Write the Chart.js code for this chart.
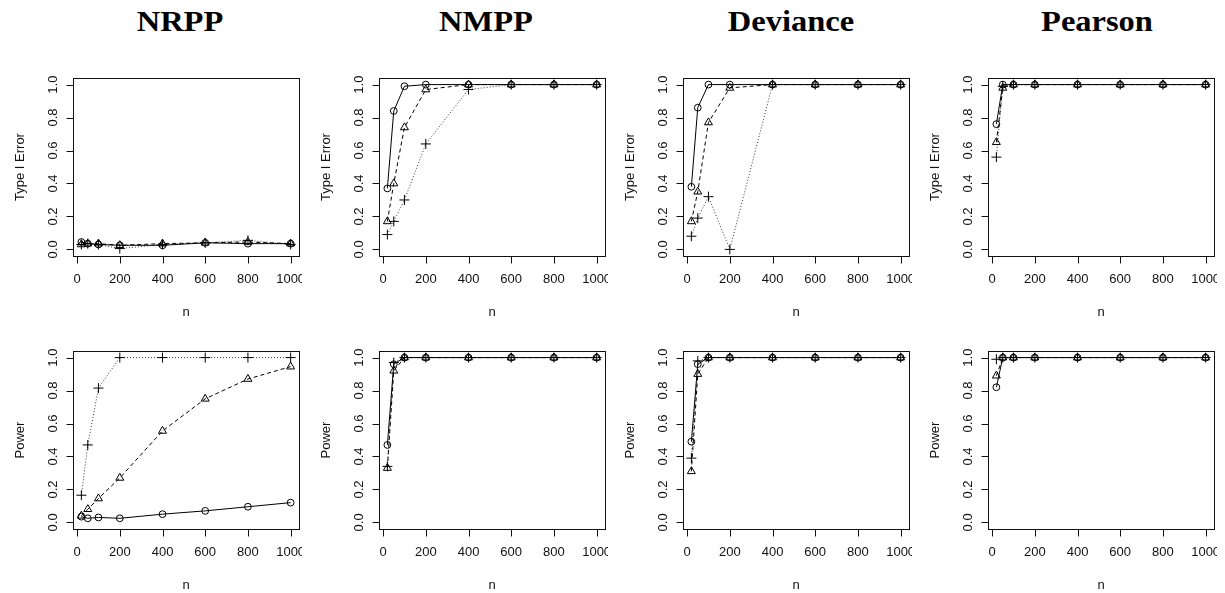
<!DOCTYPE html>
<html>
<head>
<meta charset="utf-8">
<script src="https://cdn.jsdelivr.net/npm/chart.js@4/dist/chart.umd.min.js"></script>
<style>
  html, body { margin: 0; padding: 0; background: #fff; overflow: hidden; }
  body { width: 1225px; height: 593px; position: relative; }
  .panel { position: absolute; }
  .head {
    position: absolute;
    top: 7px;
    font: bold 29px "Liberation Serif", serif;
    line-height: 1;
    color: #000;
    white-space: nowrap;
    transform: translateX(-50%) scaleX(1.12);
  }
</style>
</head>
<body>
<script>
// Размеры выборки и подписи осей
const nValues = [20, 50, 100, 200, 400, 600, 800, 1000];
const xTickValues = [0, 200, 400, 600, 800, 1000];
const xTickLabels = ["0", "200", "400", "600", "800", "1000"];
const yTickValues = [0, 0.2, 0.4, 0.6, 0.8, 1.0];
const yTickLabels = ["0.0", "0.2", "0.4", "0.6", "0.8", "1.0"];
const testNames = ["NRPP", "NMPP", "Deviance", "Pearson"];
const rowTitles = ["Type I Error", "Power"];

// Ошибка I рода: O — кружки, T — треугольники, P — плюсы
const nrppErrO = [0.045, 0.035, 0.03, 0.025, 0.025, 0.04, 0.035, 0.035];
const nrppErrT = [0.03, 0.035, 0.035, 0.025, 0.035, 0.04, 0.045, 0.035];
const nrppErrP = [0.03, 0.035, 0.03, 0.005, 0.03, 0.04, 0.055, 0.03];

const nmppErrO = [0.37, 0.84, 0.99, 1, 1, 1, 1, 1];
const nmppErrT = [0.17, 0.40, 0.74, 0.97, 1, 1, 1, 1];
const nmppErrP = [0.09, 0.17, 0.30, 0.64, 0.97, 1, 1, 1];

const devErrO = [0.38, 0.86, 1, 1, 1, 1, 1, 1];
const devErrT = [0.17, 0.35, 0.77, 0.98, 1, 1, 1, 1];
const devErrP = [0.08, 0.19, 0.32, 0, 1, 1, 1, 1];

const pearErrO = [0.76, 1, 1, 1, 1, 1, 1, 1];
const pearErrT = [0.65, 0.98, 1, 1, 1, 1, 1, 1];
const pearErrP = [0.56, 0.99, 1, 1, 1, 1, 1, 1];

// Мощность
const nrppPowO = [0.035, 0.025, 0.03, 0.025, 0.05, 0.07, 0.095, 0.12];
const nrppPowT = [0.04, 0.08, 0.145, 0.27, 0.555, 0.75, 0.87, 0.945];
const nrppPowP = [0.165, 0.47, 0.815, 1, 1, 1, 1, 1];

const nmppPowO = [0.47, 0.96, 1, 1, 1, 1, 1, 1];
const nmppPowT = [0.33, 0.92, 1, 1, 1, 1, 1, 1];
const nmppPowP = [0.34, 0.97, 1, 1, 1, 1, 1, 1];

const devPowO = [0.49, 0.96, 1, 1, 1, 1, 1, 1];
const devPowT = [0.31, 0.90, 1, 1, 1, 1, 1, 1];
const devPowP = [0.39, 0.98, 1, 1, 1, 1, 1, 1];

const pearPowO = [0.82, 1, 1, 1, 1, 1, 1, 1];
const pearPowT = [0.89, 1, 1, 1, 1, 1, 1, 1];
const pearPowP = [0.99, 1, 1, 1, 1, 1, 1, 1];

const panelData = [
  [[nrppErrO, nrppErrT, nrppErrP], [nmppErrO, nmppErrT, nmppErrP], [devErrO, devErrT, devErrP], [pearErrO, pearErrT, pearErrP]],
  [[nrppPowO, nrppPowT, nrppPowP], [nmppPowO, nmppPowT, nmppPowP], [devPowO, devPowT, devPowP], [pearPowO, pearPowT, pearPowP]],
];

// Раскладка панелей
const colLefts = [0, 306, 610, 915];
const rowTops = [40, 313];
const headCenters = [180, 486, 791, 1097];
const panelW = 306;
const panelH = 280;
const pad = { left: 73, top: 38, right: 7, bottom: 64 };

const tickFont = '13px "Liberation Sans", Arial, sans-serif';

// Рамка, засечки и подписи в стиле R
const rAxes = {
  id: "rAxes",
  afterDraw(chart, args, opts) {
    const { ctx, chartArea: a, scales } = chart;
    const sx = scales.x, sy = scales.y;
    ctx.save();
    ctx.strokeStyle = "#111";
    ctx.fillStyle = "#111";
    ctx.lineWidth = 1;
    ctx.strokeRect(a.left + 0.5, a.top + 0.5, a.width, a.height);

    ctx.beginPath();
    xTickValues.forEach((v) => {
      const px = Math.round(sx.getPixelForValue(v)) + 0.5;
      ctx.moveTo(px, a.bottom + 0.5);
      ctx.lineTo(px, a.bottom + 7.5);
    });
    yTickValues.forEach((v) => {
      const py = Math.round(sy.getPixelForValue(v)) + 0.5;
      ctx.moveTo(a.left + 0.5, py);
      ctx.lineTo(a.left - 6.5, py);
    });
    ctx.stroke();

    ctx.font = tickFont;
    ctx.textAlign = "center";
    ctx.textBaseline = "alphabetic";

    // подписи по x обрезаются у края области фигуры, как в R
    ctx.save();
    ctx.beginPath();
    ctx.rect(0, a.bottom, a.right + 3, chart.height - a.bottom);
    ctx.clip();
    xTickValues.forEach((v, i) => {
      ctx.fillText(xTickLabels[i], sx.getPixelForValue(v), a.bottom + 27);
    });
    ctx.restore();
    ctx.fillText("n", (a.left + a.right) / 2, a.bottom + 60);

    yTickValues.forEach((v, i) => {
      ctx.save();
      ctx.translate(a.left - 16, sy.getPixelForValue(v));
      ctx.rotate(-Math.PI / 2);
      ctx.fillText(yTickLabels[i], 0, 0);
      ctx.restore();
    });

    ctx.save();
    ctx.translate(a.left - 49, (a.top + a.bottom) / 2);
    ctx.rotate(-Math.PI / 2);
    ctx.fillText(opts.yTitle, 0, 0);
    ctx.restore();

    ctx.restore();
  },
};

// Три кривые: сплошная с кружками, пунктир с треугольниками, точки с плюсами
const seriesStyles = [
  { pointStyle: "circle", pointRadius: 3.4, borderDash: [], color: "#000" },
  { pointStyle: "triangle", pointRadius: 4.6, borderDash: [4, 3], color: "#000" },
  { pointStyle: "cross", pointRadius: 5, borderDash: [1, 2], color: "#333" },
];

function makeDatasets(seriesList) {
  return seriesList.map((vals, k) => {
    const st = seriesStyles[k];
    return {
      data: nValues.map((n, i) => ({ x: n, y: vals[i] })),
      borderColor: st.color,
      borderWidth: 1,
      borderDash: st.borderDash,
      pointStyle: st.pointStyle,
      pointRadius: st.pointRadius,
      pointBorderColor: "#000",
      pointBorderWidth: 1,
      pointBackgroundColor: "rgba(0,0,0,0)",
      tension: 0,
      fill: false,
    };
  });
}

testNames.forEach((name, c) => {
  const head = document.createElement("div");
  head.className = "head";
  head.style.left = headCenters[c] + "px";
  head.textContent = name;
  document.body.appendChild(head);
});

rowTitles.forEach((title, r) => {
  testNames.forEach((name, c) => {
    const canvas = document.createElement("canvas");
    canvas.className = "panel";
    canvas.width = panelW;
    canvas.height = panelH;
    canvas.style.left = colLefts[c] + "px";
    canvas.style.top = rowTops[r] + "px";
    canvas.style.width = panelW + "px";
    canvas.style.height = panelH + "px";
    document.body.appendChild(canvas);

    new Chart(canvas.getContext("2d"), {
      type: "line",
      data: { datasets: makeDatasets(panelData[r][c]) },
      options: {
        responsive: false,
        animation: false,
        devicePixelRatio: 1,
        events: [],
        layout: { padding: pad },
        scales: {
          x: { type: "linear", min: -19.2, max: 1039.2, display: false },
          y: { type: "linear", min: -0.04, max: 1.04, display: false },
        },
        plugins: {
          legend: { display: false },
          tooltip: { enabled: false },
          rAxes: { yTitle: title },
        },
      },
      plugins: [rAxes],
    });
  });
});
</script>
</body>
</html>
